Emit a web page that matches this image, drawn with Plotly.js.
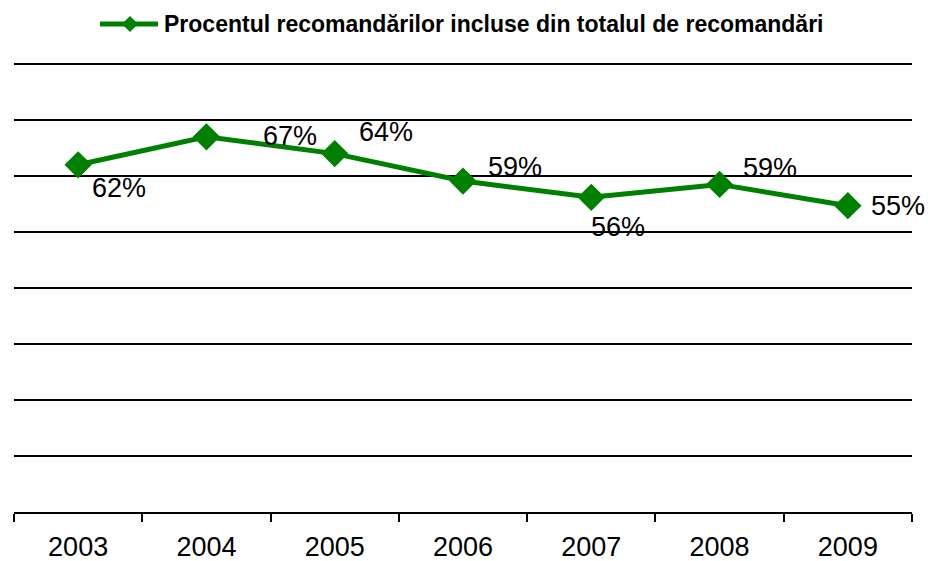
<!DOCTYPE html>
<html>
<head>
<meta charset="utf-8">
<script src="https://cdn.plot.ly/plotly-3.0.1.min.js"></script>
<style>html,body{margin:0;padding:0;background:#fff;}#chart{width:928px;height:561px;}</style>
</head>
<body>
<div id="chart"></div>
<script>
const years = ['2003', '2004', '2005', '2006', '2007', '2008', '2009'];
const shares = [0.62, 0.67, 0.64, 0.591, 0.562, 0.585, 0.547];
const labels = ['62%', '67%', '64%', '59%', '56%', '59%', '55%'];
const seriesName = 'Procentul recomandărilor incluse din totalul de recomandări';

// label offsets in pixels (style only)
const labelDx = [41, 84, 51, 52, 27, 50, 50];
const labelDy = [-23, 1, 22, 14, -30, 16, 0];

const FONT = 'Arial, "Liberation Sans", sans-serif';
const GREEN = '#008000';

// plot-area geometry (pixels)
const PL = 14, PR = 912, PT = 58, PB = 512;
const YTOP = 0.8 * (PB - PT) / (PB - 64); // so the 0.8 gridline lands at y=64
const px2x = p => (p - PL) / (PR - PL);
const py2y = p => (PB - p) / (PB - PT);

const trace = {
  x: years,
  y: shares,
  type: 'scatter',
  mode: 'lines+markers',
  name: seriesName,
  line: {color: GREEN, width: 5},
  marker: {symbol: 'diamond', size: 21, color: GREEN},
  hoverinfo: 'skip',
  showlegend: false
};

const annotations = [];
for (let i = 0; i < years.length; i++) {
  annotations.push({
    x: i, y: shares[i], text: labels[i], showarrow: false,
    xref: 'x', yref: 'y',
    xshift: labelDx[i], yshift: labelDy[i],
    font: {family: FONT, size: 27, color: '#000000'}
  });
}
// legend text
annotations.push({
  x: px2x(162), y: py2y(24), xref: 'paper', yref: 'paper',
  xanchor: 'left', yanchor: 'middle', showarrow: false,
  text: '<b>' + seriesName + '</b>',
  font: {family: FONT, size: 23, color: '#000000'}
});

const shapes = [
  {type: 'line', xref: 'paper', yref: 'paper',
   x0: px2x(100), x1: px2x(158), y0: py2y(24), y1: py2y(24),
   line: {color: GREEN, width: 5}},
  {type: 'path', xref: 'paper', yref: 'paper',
   xsizemode: 'pixel', ysizemode: 'pixel',
   xanchor: px2x(130), yanchor: py2y(24),
   path: 'M -8 0 L 0 8 L 8 0 L 0 -8 Z',
   fillcolor: GREEN, line: {color: GREEN, width: 0}}
];

const layout = {
  width: 928, height: 561,
  margin: {l: PL, r: 928 - PR, t: PT, b: 561 - PB},
  paper_bgcolor: '#fff', plot_bgcolor: '#fff',
  font: {family: FONT, color: '#000'},
  showlegend: false,
  xaxis: {
    type: 'category', range: [-0.5, 6.5], fixedrange: true,
    showgrid: false, zeroline: false,
    showline: true, linecolor: '#000', linewidth: 2,
    ticks: 'outside', tickson: 'boundaries', ticklen: 8, tickwidth: 2, tickcolor: '#000',
    ticklabelstandoff: 10,
    tickfont: {family: FONT, size: 27, color: '#000'}
  },
  yaxis: {
    range: [0, YTOP], dtick: 0.1, tick0: 0, fixedrange: true,
    showticklabels: false, ticks: '',
    showgrid: true, gridcolor: '#000', gridwidth: 2,
    zeroline: false, showline: false
  },
  annotations: annotations,
  shapes: shapes
};

Plotly.newPlot('chart', [trace], layout, {displayModeBar: false, staticPlot: true});
</script>
</body>
</html>
